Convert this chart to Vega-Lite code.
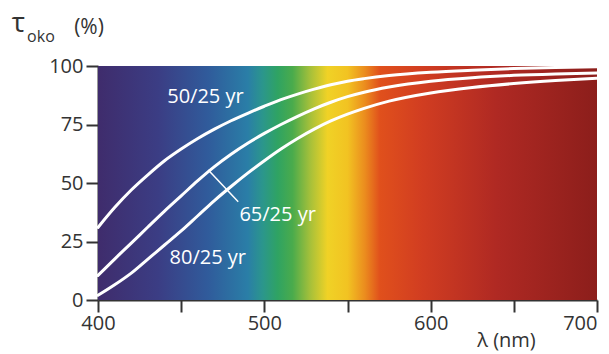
{
  "$schema": "https://vega.github.io/schema/vega-lite/v6.json",
  "width": 499,
  "height": 234,
  "autosize": "none",
  "padding": {"left": 98, "top": 66, "right": 12, "bottom": 54},
  "background": "white",
  "config": {
    "view": {"stroke": null},
    "font": "Open Sans",
    "axis": {"grid": false}
  },
  "datasets": {
    "band": [{"start": 400, "end": 700, "low": 0, "high": 100}],
    "curves": [
      {"lambda": 400, "tau": 31, "age": "50/25 yr"}, {"lambda": 410, "tau": 39.5, "age": "50/25 yr"}, {"lambda": 420, "tau": 47, "age": "50/25 yr"}, {"lambda": 430, "tau": 53.5, "age": "50/25 yr"}, {"lambda": 440, "tau": 59.5, "age": "50/25 yr"}, {"lambda": 450, "tau": 64.5, "age": "50/25 yr"}, {"lambda": 460, "tau": 69, "age": "50/25 yr"}, {"lambda": 470, "tau": 73, "age": "50/25 yr"}, {"lambda": 480, "tau": 76.6, "age": "50/25 yr"}, {"lambda": 490, "tau": 79.8, "age": "50/25 yr"}, {"lambda": 500, "tau": 82.8, "age": "50/25 yr"}, {"lambda": 510, "tau": 85.6, "age": "50/25 yr"}, {"lambda": 520, "tau": 88, "age": "50/25 yr"}, {"lambda": 530, "tau": 90.1, "age": "50/25 yr"}, {"lambda": 540, "tau": 92, "age": "50/25 yr"}, {"lambda": 550, "tau": 93.5, "age": "50/25 yr"}, {"lambda": 560, "tau": 94.6, "age": "50/25 yr"}, {"lambda": 575, "tau": 95.9, "age": "50/25 yr"}, {"lambda": 600, "tau": 97.3, "age": "50/25 yr"}, {"lambda": 625, "tau": 98.2, "age": "50/25 yr"}, {"lambda": 650, "tau": 98.9, "age": "50/25 yr"}, {"lambda": 675, "tau": 99.4, "age": "50/25 yr"}, {"lambda": 700, "tau": 99.7, "age": "50/25 yr"},
      {"lambda": 400, "tau": 10.5, "age": "65/25 yr"}, {"lambda": 410, "tau": 17.5, "age": "65/25 yr"}, {"lambda": 420, "tau": 24.3, "age": "65/25 yr"}, {"lambda": 430, "tau": 31.2, "age": "65/25 yr"}, {"lambda": 440, "tau": 38, "age": "65/25 yr"}, {"lambda": 450, "tau": 44.5, "age": "65/25 yr"}, {"lambda": 460, "tau": 51, "age": "65/25 yr"}, {"lambda": 470, "tau": 57, "age": "65/25 yr"}, {"lambda": 480, "tau": 62.3, "age": "65/25 yr"}, {"lambda": 490, "tau": 67, "age": "65/25 yr"}, {"lambda": 500, "tau": 71.2, "age": "65/25 yr"}, {"lambda": 510, "tau": 75, "age": "65/25 yr"}, {"lambda": 520, "tau": 78.5, "age": "65/25 yr"}, {"lambda": 530, "tau": 81.7, "age": "65/25 yr"}, {"lambda": 540, "tau": 84.5, "age": "65/25 yr"}, {"lambda": 550, "tau": 86.9, "age": "65/25 yr"}, {"lambda": 560, "tau": 88.8, "age": "65/25 yr"}, {"lambda": 575, "tau": 91, "age": "65/25 yr"}, {"lambda": 600, "tau": 93.5, "age": "65/25 yr"}, {"lambda": 625, "tau": 95, "age": "65/25 yr"}, {"lambda": 650, "tau": 96, "age": "65/25 yr"}, {"lambda": 675, "tau": 96.6, "age": "65/25 yr"}, {"lambda": 700, "tau": 97, "age": "65/25 yr"},
      {"lambda": 400, "tau": 2, "age": "80/25 yr"}, {"lambda": 410, "tau": 6.5, "age": "80/25 yr"}, {"lambda": 420, "tau": 11.5, "age": "80/25 yr"}, {"lambda": 430, "tau": 17.5, "age": "80/25 yr"}, {"lambda": 440, "tau": 23.5, "age": "80/25 yr"}, {"lambda": 450, "tau": 29.5, "age": "80/25 yr"}, {"lambda": 460, "tau": 36, "age": "80/25 yr"}, {"lambda": 470, "tau": 42.5, "age": "80/25 yr"}, {"lambda": 480, "tau": 48.5, "age": "80/25 yr"}, {"lambda": 490, "tau": 54.2, "age": "80/25 yr"}, {"lambda": 500, "tau": 59.5, "age": "80/25 yr"}, {"lambda": 510, "tau": 64.5, "age": "80/25 yr"}, {"lambda": 520, "tau": 69, "age": "80/25 yr"}, {"lambda": 530, "tau": 73, "age": "80/25 yr"}, {"lambda": 540, "tau": 76.5, "age": "80/25 yr"}, {"lambda": 550, "tau": 79.4, "age": "80/25 yr"}, {"lambda": 560, "tau": 81.9, "age": "80/25 yr"}, {"lambda": 575, "tau": 85, "age": "80/25 yr"}, {"lambda": 600, "tau": 88.5, "age": "80/25 yr"}, {"lambda": 625, "tau": 90.8, "age": "80/25 yr"}, {"lambda": 650, "tau": 92.5, "age": "80/25 yr"}, {"lambda": 675, "tau": 93.8, "age": "80/25 yr"}, {"lambda": 700, "tau": 94.8, "age": "80/25 yr"}
    ],
    "leader": [{"l1": 466.3, "t1": 55.6, "l2": 484.3, "t2": 42}],
    "labels": [
      {"lambda": 464.6, "tau": 84.3, "text": "50/25 yr"},
      {"lambda": 508, "tau": 33.9, "text": "65/25 yr"},
      {"lambda": 466, "tau": 15.2, "text": "80/25 yr"}
    ],
    "tau": [{"lambda": 352.2, "tau": 114.5, "text": "τ"}],
    "oko": [{"lambda": 365.7, "tau": 110.3, "text": "oko"}],
    "pct": [{"lambda": 394.6, "tau": 113.6, "text": "(%)"}]
  },
  "layer": [
    {
      "data": {"name": "band"},
      "mark": {
        "type": "rect",
        "fill": {
          "gradient": "linear", "x1": 0, "y1": 0, "x2": 1, "y2": 0,
          "stops": [
            {"offset": 0, "color": "#3f2c6c"},
            {"offset": 0.12, "color": "#3b3d84"},
            {"offset": 0.22, "color": "#305b9b"},
            {"offset": 0.30, "color": "#2a7ea7"},
            {"offset": 0.33, "color": "#2b968c"},
            {"offset": 0.36, "color": "#2fa363"},
            {"offset": 0.39, "color": "#4aab4c"},
            {"offset": 0.425, "color": "#a5c03a"},
            {"offset": 0.46, "color": "#f0d226"},
            {"offset": 0.50, "color": "#f2c322"},
            {"offset": 0.535, "color": "#eb8c1e"},
            {"offset": 0.565, "color": "#e0501c"},
            {"offset": 0.65, "color": "#d13d21"},
            {"offset": 0.80, "color": "#af2923"},
            {"offset": 1, "color": "#8c1e1b"}
          ]
        }
      },
      "encoding": {
        "x": {
          "field": "start", "type": "quantitative",
          "scale": {"domain": [400, 700], "nice": false, "zero": false},
          "axis": {
            "title": "λ (nm)", "titleFontSize": 20, "titleFontWeight": "normal", "titleColor": "#333",
            "titleX": 408, "titleY": 46, "titleBaseline": "alphabetic", "titleAlign": "center", "titleAnchor": null,
            "values": [400, 450, 500, 550, 600, 650, 700],
            "labelExpr": "datum.value % 100 === 0 ? datum.label : ''",
            "labelAlign": {"condition": {"test": "datum.value === 700", "value": "right"}, "value": "center"},
            "labelFontSize": 20, "labelColor": "#333", "labelPadding": 1, "labelFlush": false,
            "tickSize": 12, "tickWidth": 2, "tickColor": "#333",
            "domainColor": "#333", "domainWidth": 2
          }
        },
        "x2": {"field": "end"},
        "y": {
          "field": "low", "type": "quantitative",
          "scale": {"domain": [0, 100], "nice": false},
          "axis": {
            "title": null,
            "values": [0, 25, 50, 75, 100],
            "labelFontSize": 20, "labelColor": "#333", "labelPadding": 3,
            "tickSize": 12, "tickWidth": 2, "tickColor": "#333",
            "domainColor": "#333", "domainWidth": 2
          }
        },
        "y2": {"field": "high"}
      }
    },
    {
      "data": {"name": "curves"},
      "mark": {"type": "line", "color": "white", "strokeWidth": 3, "interpolate": "monotone", "strokeCap": "round"},
      "encoding": {
        "x": {"field": "lambda", "type": "quantitative"},
        "y": {"field": "tau", "type": "quantitative"},
        "detail": {"field": "age"}
      }
    },
    {
      "data": {"name": "leader"},
      "mark": {"type": "rule", "color": "white", "strokeWidth": 1.5},
      "encoding": {
        "x": {"field": "l1", "type": "quantitative"},
        "x2": {"field": "l2"},
        "y": {"field": "t1", "type": "quantitative"},
        "y2": {"field": "t2"}
      }
    },
    {
      "data": {"name": "labels"},
      "mark": {"type": "text", "color": "white", "fontSize": 20, "align": "center", "baseline": "alphabetic"},
      "encoding": {
        "x": {"field": "lambda", "type": "quantitative"},
        "y": {"field": "tau", "type": "quantitative"},
        "text": {"field": "text"}
      }
    },
    {
      "data": {"name": "tau"},
      "mark": {"type": "text", "color": "#333", "fontSize": 28, "align": "center", "baseline": "alphabetic"},
      "encoding": {
        "x": {"field": "lambda", "type": "quantitative"},
        "y": {"field": "tau", "type": "quantitative"},
        "text": {"field": "text"}
      }
    },
    {
      "data": {"name": "oko"},
      "mark": {"type": "text", "color": "#333", "fontSize": 16, "align": "center", "baseline": "alphabetic"},
      "encoding": {
        "x": {"field": "lambda", "type": "quantitative"},
        "y": {"field": "tau", "type": "quantitative"},
        "text": {"field": "text"}
      }
    },
    {
      "data": {"name": "pct"},
      "mark": {"type": "text", "color": "#333", "fontSize": 21, "align": "center", "baseline": "alphabetic"},
      "encoding": {
        "x": {"field": "lambda", "type": "quantitative"},
        "y": {"field": "tau", "type": "quantitative"},
        "text": {"field": "text"}
      }
    }
  ]
}
